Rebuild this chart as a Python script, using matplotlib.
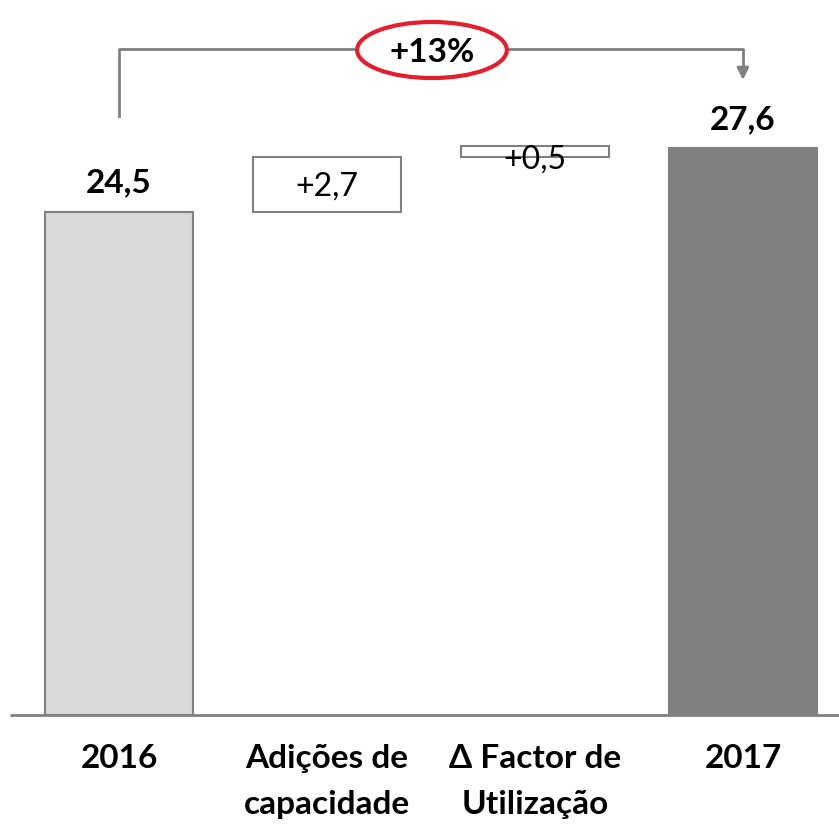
import matplotlib.pyplot as plt
from matplotlib.patches import Ellipse

# dados
categorias = ['2016', 'Adições de\ncapacidade', '\u0394 Factor de\nUtilização', '2017']
inicio = 24.5
variacoes = [2.7, 0.5]
fim = 27.6
rotulos_var = ['+2,7', '+0,5']
crescimento = '+13%'

plt.rcParams['font.family'] = ['Lato', 'DejaVu Sans']

fig = plt.figure(figsize=(8.39, 8.28), dpi=100)
ax = fig.add_axes([0, 0, 1, 1])
ax.set_xlim(-0.572, 3.462)
ax.set_ylim(-5.455, 34.875)
ax.axis('off')

w = 0.71
cinza = '#808080'

# barra inicial e final
ax.bar(0, inicio, width=w, color='#D9D9D9', edgecolor=cinza, linewidth=1.5)
ax.bar(3, fim, width=w, color=cinza, edgecolor=cinza, linewidth=1.5)

# caixas flutuantes
base = inicio
desloc = [0.05, 0.35]
for i, (v, r) in enumerate(zip(variacoes, rotulos_var), 1):
    ax.bar(i, v, bottom=base, width=w, color='white', edgecolor=cinza, linewidth=1.5)
    ax.text(i, base + v / 2 - desloc[i - 1], r, ha='center', va='center',
            fontsize=23, color='black')
    base += v

# valores
ax.text(0, inicio + 0.75, '24,5', ha='center', va='bottom', fontsize=24, fontweight='bold')
ax.text(3, fim + 0.75, '27,6', ha='center', va='bottom', fontsize=24, fontweight='bold')

# linha de base
ax.plot([-0.524, 3.462], [0, 0], color=cinza, lw=2, solid_capstyle='butt')

# categorias
for i, c in enumerate(categorias):
    ax.text(i, -1.35, c, ha='center', va='top', fontsize=24, fontweight='bold',
            linespacing=1.7)

# seta de crescimento
ytop = 32.44
ax.plot([0, 0, 3, 3], [29.18, ytop, ytop, 31.3], color=cinza, lw=2)
ax.annotate('', xy=(3, 30.8), xytext=(3, 31.6),
            arrowprops=dict(arrowstyle='-|>,head_width=0.35,head_length=0.7',
                            color=cinza, lw=2))
ax.add_patch(Ellipse((1.505, 32.39), 0.72, 2.73, facecolor='white',
                     edgecolor='#E31E2D', lw=3, zorder=5))
ax.text(1.505, 32.3, crescimento, ha='center', va='center', fontsize=24,
        fontweight='bold', zorder=6)

fig.savefig('out.png', dpi=100)
